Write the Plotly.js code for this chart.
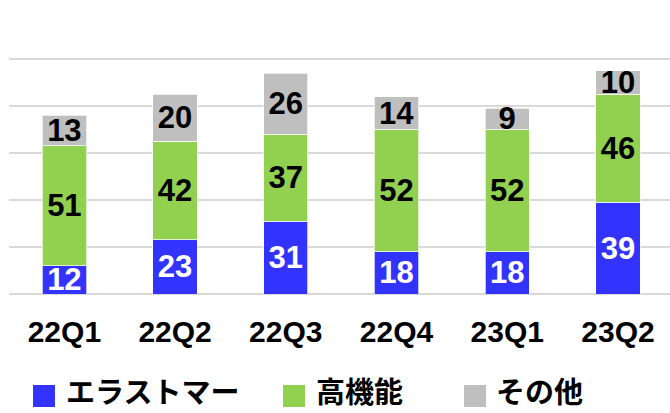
<!DOCTYPE html>
<html><head><meta charset="utf-8">
<script src="https://cdn.plot.ly/plotly-3.0.1.min.js"></script>
<style>html,body{margin:0;padding:0;background:#fff}#c{width:670px;height:413px}</style>
</head><body><div id="c"></div>
<script>
const categories = ["22Q1","22Q2","22Q3","22Q4","23Q1","23Q2"];
const elastomer = [12,23,31,18,18,39];
const highFunc = [51,42,37,52,52,46];
const others = [13,20,26,14,9,10];
const seriesNames = ["エラストマー","高機能","その他"];
const seriesColors = ["#3333FF","#92D050","#BFBFBF"];

const numFont = "Liberation Sans, Arial, sans-serif";
const cjkFont = "Noto Sans CJK JP, sans-serif";
function tr(name, y, color, txtColor){
  return {type:"bar", name:name, x:categories, y:y,
    marker:{color:color, line:{color:"rgba(255,255,255,0.7)", width:1}},
    text:y.map(String), textposition:"inside", insidetextanchor:"middle",
    textangle:0, constraintext:"none", cliponaxis:false,
    textfont:{family:numFont, size:31, color:txtColor, weight:"bold"},
    hoverinfo:"skip"};
}
const data = [
  tr(seriesNames[0], elastomer, seriesColors[0], "#FFFFFF"),
  tr(seriesNames[1], highFunc, seriesColors[1], "#000000"),
  tr(seriesNames[2], others, seriesColors[2], "#000000")
];

// custom legend (pixel layout converted to paper coords)
const W = 670, H = 413, mL = 9, mR = 0, mT = 12, mB = 119;
const pw = W - mL - mR, ph = H - mT - mB;
const px = x => (x - mL) / pw;
const py = y => (H - mB - y) / ph;
const legSquareX = [33, 283, 464];
const legTextX = [64, 314, 494];
const shapes = [], annotations = [];
for (let i = 0; i < 3; i++) {
  shapes.push({type:"rect", xref:"paper", yref:"paper",
    x0:px(legSquareX[i]), x1:px(legSquareX[i]+22), y0:py(407), y1:py(385),
    fillcolor:seriesColors[i], line:{width:0}});
  annotations.push({xref:"paper", yref:"paper", x:px(legTextX[i]), y:py(412.5),
    xanchor:"left", yanchor:"bottom", showarrow:false, text:seriesNames[i],
    font:{family:cjkFont, size:29, color:"#000", weight:"bold"}});
}

const layout = {
  width:W, height:H, margin:{l:mL,r:mR,t:mT,b:mB},
  barmode:"stack", bargap:0.6,
  paper_bgcolor:"#fff", plot_bgcolor:"#fff",
  showlegend:false, shapes:shapes, annotations:annotations,
  xaxis:{range:[-0.5,5.47], showgrid:false, zeroline:false, showline:false, ticks:"",
    automargin:false, ticklabelstandoff:17,
    tickfont:{family:numFont, size:30, color:"#000", weight:"bold"}},
  yaxis:{range:[0,120], dtick:20, showgrid:true, gridcolor:"#D9D9D9", gridwidth:2,
    automargin:false,
    zeroline:true, zerolinecolor:"#D9D9D9", zerolinewidth:2,
    showticklabels:false, ticks:""},
  font:{family:numFont}
};
Plotly.newPlot("c", data, layout, {staticPlot:true});
</script></body></html>
